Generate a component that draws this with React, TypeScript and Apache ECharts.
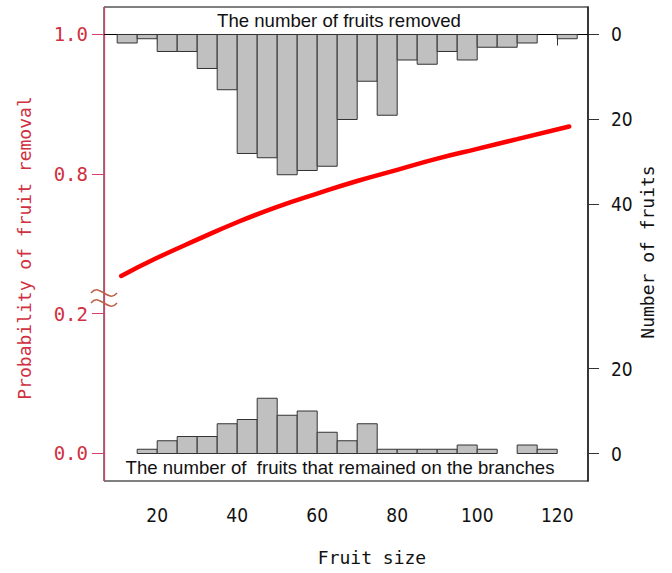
import React, { useEffect, useRef } from "react";
import * as echarts from "echarts";

// Histogram bins (left edges, width 5)
const binLefts = [10, 15, 20, 25, 30, 35, 40, 45, 50, 55, 60, 65, 70, 75, 80, 85, 90, 95, 100, 105, 110, 115, 120];
const binWidth = 5;
const removedCounts = [2, 1, 4, 4, 8, 13, 28, 29, 33, 32, 31, 20, 11, 19, 6, 7, 4, 6, 3, 3, 2, 0, 1];
const remainedCounts = [0, 1, 3, 4, 4, 7, 8, 13, 9, 10, 5, 3, 7, 1, 1, 1, 1, 2, 1, 0, 2, 1, 0];

// Fitted probability curve (values on the underlying plot scale)
const curveX = [11, 20, 30, 40, 50, 60, 70, 80, 90, 100, 110, 123];
const curveY = [0.654, 0.68, 0.706, 0.731, 0.753, 0.772, 0.79, 0.806, 0.822, 0.836, 0.85, 0.868];

// Axis ticks
const xTicks = [20, 40, 60, 80, 100, 120];
const leftTickValues = [0.4, 0.6, 0.8, 1.0];
const leftTickLabels = ["0.0", "0.2", "0.8", "1.0"];
const topCountTicks = [0, 20, 40];
const bottomCountTicks = [0, 20];

const RED_TXT = "#d0303f";
const RED_AXIS = "#d8406a";
const TICK_FONT = "'Liberation Sans Narrow', 'DejaVu Sans Condensed', 'Liberation Sans', sans-serif";
const MONO = "'DejaVu Sans Mono', monospace";

export default function App() {
  const ref = useRef<HTMLDivElement>(null);
  useEffect(() => {
    if (!ref.current) return;
    const chart = echarts.init(ref.current, null, { renderer: "svg" });

    const histData = (counts: number[]) =>
      binLefts.map((b, i) => [b, b + binWidth, counts[i]]);

    const renderHist = (params: any, api: any) => {
      const x0 = api.value(0);
      const x1 = api.value(1);
      const c = api.value(2);
      if (!c) return null;
      const p0 = api.coord([x0, 0]);
      const p1 = api.coord([x1, c]);
      return {
        type: "rect",
        shape: {
          x: p0[0],
          y: Math.min(p0[1], p1[1]),
          width: p1[0] - p0[0],
          height: Math.abs(p1[1] - p0[1]),
        },
        style: { fill: "#c0c0c0", stroke: "#333", lineWidth: 1 },
      };
    };

    const tilde = (y: number) => ({
      type: "bezierCurve",
      shape: { x1: 91, y1: y, cpx1: 100, cpy1: y - 11, cpx2: 108, cpy2: y + 11, x2: 117, y2: y },
      style: { stroke: "#c0604a", lineWidth: 1.5, fill: null },
      z: 10,
    });

    const countAxisCommon = {
      type: "value",
      position: "right",
      min: -6.47,
      max: 105.06,
      splitLine: { show: false },
      axisLine: { show: true, lineStyle: { color: "#333", width: 1.5 } },
      axisTick: { show: true, length: 11, lineStyle: { color: "#333" } },
    };

    chart.setOption({
      animation: false,
      grid: {
        left: 104,
        top: 7,
        width: 484,
        height: 474,
        show: true,
        borderColor: "#000",
        borderWidth: 1,
        containLabel: false,
      },
      xAxis: {
        type: "value",
        min: 6.7,
        max: 127.7,
        splitLine: { show: false },
        axisLine: { show: true, lineStyle: { color: "#000" } },
        axisTick: { show: true, length: 11, customValues: xTicks, lineStyle: { color: "#333" } },
        axisLabel: {
          customValues: xTicks,
          margin: 24,
          fontSize: 19,
          fontFamily: TICK_FONT,
          color: "#111",
        },
      },
      yAxis: [
        {
          type: "value",
          position: "left",
          min: 0.3605,
          max: 1.0391,
          splitLine: { show: false },
          axisLine: { show: true, lineStyle: { color: RED_AXIS, width: 1.2 } },
          axisTick: { show: true, length: 12, customValues: leftTickValues, lineStyle: { color: RED_AXIS } },
          axisLabel: {
            customValues: leftTickValues,
            margin: 16,
            fontSize: 19,
            fontFamily: MONO,
            color: RED_TXT,
            formatter: (v: number) => {
              const i = leftTickValues.findIndex((t) => Math.abs(t - v) < 1e-6);
              return i >= 0 ? leftTickLabels[i] : "";
            },
          },
        },
        {
          ...countAxisCommon,
          inverse: true,
          axisTick: { ...countAxisCommon.axisTick, customValues: topCountTicks },
          axisLabel: {
            customValues: topCountTicks,
            margin: 23,
            fontSize: 19,
            fontFamily: TICK_FONT,
            color: "#111",
          },
        },
        {
          ...countAxisCommon,
          axisTick: { ...countAxisCommon.axisTick, customValues: bottomCountTicks },
          axisLabel: {
            customValues: bottomCountTicks,
            margin: 23,
            fontSize: 19,
            fontFamily: TICK_FONT,
            color: "#111",
          },
        },
      ],
      series: [
        {
          type: "custom",
          name: "removed",
          xAxisIndex: 0,
          yAxisIndex: 1,
          renderItem: renderHist,
          encode: { x: [0, 1], y: 2 },
          data: histData(removedCounts),
        },
        {
          type: "custom",
          name: "remained",
          xAxisIndex: 0,
          yAxisIndex: 2,
          renderItem: renderHist,
          encode: { x: [0, 1], y: 2 },
          data: histData(remainedCounts),
        },
        {
          type: "line",
          name: "probability",
          xAxisIndex: 0,
          yAxisIndex: 0,
          smooth: true,
          showSymbol: false,
          lineStyle: { color: "#ff0000", width: 4.5, cap: "round" },
          data: curveX.map((x, i) => [x, curveY[i]]),
          z: 5,
        },
      ],
      graphic: [
        {
          type: "text",
          x: 339,
          y: 20,
          style: {
            text: "The number of fruits removed",
            fontSize: 18.6,
            fontFamily: "'Liberation Sans', Arial, sans-serif",
            fill: "#111",
            align: "center",
            verticalAlign: "middle",
          },
        },
        {
          type: "text",
          x: 340,
          y: 467,
          style: {
            text: "The number of  fruits that remained on the branches",
            fontSize: 18.6,
            fontFamily: "'Liberation Sans', Arial, sans-serif",
            fill: "#111",
            align: "center",
            verticalAlign: "middle",
          },
        },
        {
          type: "text",
          x: 24,
          y: 248,
          rotation: Math.PI / 2,
          style: {
            text: "Probability of fruit removal",
            fontSize: 18,
            fontFamily: MONO,
            fill: RED_TXT,
            align: "center",
            verticalAlign: "middle",
          },
        },
        {
          type: "text",
          x: 647,
          y: 252,
          rotation: Math.PI / 2,
          style: {
            text: "Number of fruits",
            fontSize: 18,
            fontFamily: MONO,
            fill: "#111",
            align: "center",
            verticalAlign: "middle",
          },
        },
        {
          type: "text",
          x: 372,
          y: 557,
          style: {
            text: "Fruit size",
            fontSize: 18,
            fontFamily: MONO,
            fill: "#111",
            align: "center",
            verticalAlign: "middle",
          },
        },
        tilde(293),
        tilde(303),
      ],
    });
    return () => chart.dispose();
  }, []);
  return (
    <div
      ref={ref}
      style={{ position: "absolute", left: 0, top: 0, width: 672, height: 573 }}
    />
  );
}
